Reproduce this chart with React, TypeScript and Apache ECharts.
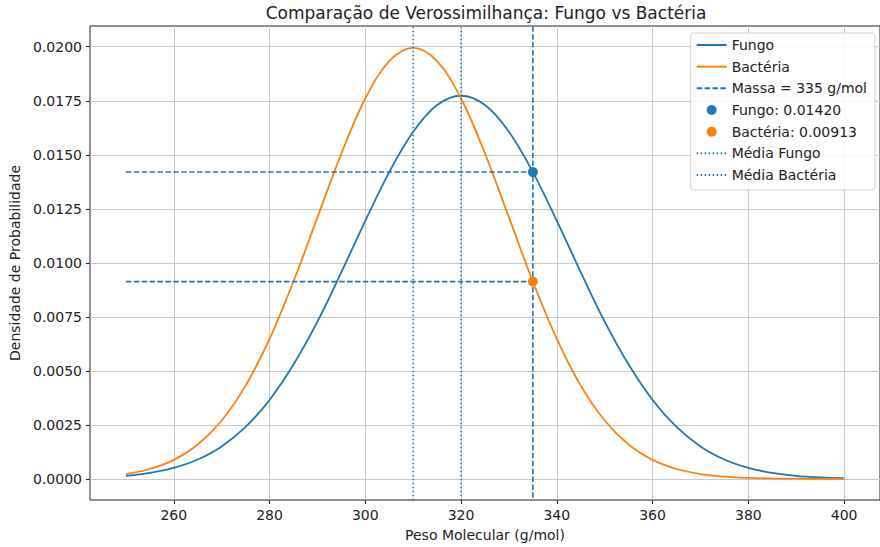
import React, { useEffect, useRef } from "react";
import * as echarts from "echarts";

// Molecular weight grid (g/mol) and probability densities of each model
const massas = [
  250, 255, 260, 265, 270, 275, 280, 285, 290, 295, 300, 305, 310, 315, 320, 325,
  330, 335, 340, 345, 350, 355, 360, 365, 370, 375, 380, 385, 390, 395, 400,
];
const densidadeFungo = [
  0.00014, 0.000273, 0.000506, 0.000894, 0.001501, 0.0024, 0.003651, 0.005288,
  0.007273, 0.009564, 0.011944, 0.014198, 0.016064, 0.017299, 0.017731, 0.017299,
  0.016064, 0.014198, 0.011944, 0.009564, 0.007273, 0.005288, 0.003651, 0.0024,
  0.001501, 0.000894, 0.000506, 0.000273, 0.00014, 0.0000686, 0.0000319,
];
const densidadeBacteria = [
  0.000222, 0.000455, 0.000876, 0.001587, 0.0027, 0.004314, 0.006476, 0.009132,
  0.012099, 0.015057, 0.017603, 0.019333, 0.019947, 0.019333, 0.017603, 0.015057,
  0.012099, 0.009132, 0.006476, 0.004314, 0.0027, 0.001587, 0.000876, 0.000455,
  0.000222, 0.0001015, 0.0000436, 0.0000176, 0.0000067, 0.0000024, 0.0000008,
];

const massaObservada = 335;
const mediaFungo = 320;
const mediaBacteria = 310;
const verossFungo = 0.0142;
const verossBacteria = 0.00913;

const xTicks = [260, 280, 300, 320, 340, 360, 380, 400];
const yTicks = [0, 0.0025, 0.005, 0.0075, 0.01, 0.0125, 0.015, 0.0175, 0.02];

const X_MIN = 242.5;
const X_MAX = 407.5;
const Y_MIN = -0.00098;
const Y_MAX = 0.02096;

const AZUL = "#1f77b4";
const LARANJA = "#ff7f0e";
const TEXTO = "#222";
const FONTE = "DejaVu Sans";
const TRACEJADO = [5.5, 2.4];
const PONTILHADO = [1.5, 2.5];

// Line entries in the legend show only their stroke, no marker
const semMarcador = { opacity: 0 };

export default function App() {
  const ref = useRef<HTMLDivElement>(null);

  useEffect(() => {
    if (!ref.current) return;
    document.body.style.margin = "0";
    const chart = echarts.init(ref.current, null, { renderer: "svg" });

    const verticalLine = (x: number) => [
      [x, Y_MIN - 1],
      [x, Y_MAX + 1],
    ];

    chart.setOption({
      animation: false,
      textStyle: { fontFamily: FONTE },
      graphic: [
        {
          type: "text",
          x: 486,
          y: 13,
          style: {
            text: "Comparação de Verossimilhança: Fungo vs Bactéria",
            textAlign: "center",
            textVerticalAlign: "middle",
            fontFamily: FONTE,
            fontSize: 17,
            fill: TEXTO,
          },
        },
      ],
      grid: {
        left: 90,
        top: 26,
        width: 792,
        height: 474,
        show: true,
        borderColor: "#222",
        borderWidth: 1,
        backgroundColor: "transparent",
      },
      legend: {
        orient: "vertical",
        right: 5,
        top: 33,
        padding: [5, 8, 8, 5],
        itemWidth: 30,
        itemHeight: 10,
        itemGap: 7.67,
        backgroundColor: "rgba(255,255,255,0.85)",
        borderColor: "#d0d0d0",
        borderWidth: 1,
        borderRadius: 3,
        textStyle: { fontFamily: FONTE, fontSize: 14, lineHeight: 14, color: TEXTO },
        data: [
          { name: "Fungo", itemStyle: semMarcador },
          { name: "Bactéria", itemStyle: semMarcador },
          { name: "Massa = 335 g/mol", itemStyle: semMarcador },
          "Fungo: 0.01420",
          "Bactéria: 0.00913",
          { name: "Média Fungo", itemStyle: semMarcador },
          { name: "Média Bactéria", itemStyle: semMarcador },
        ],
      },
      xAxis: {
        type: "value",
        min: X_MIN,
        max: X_MAX,
        name: "Peso Molecular (g/mol)",
        nameLocation: "middle",
        nameGap: 28,
        nameTextStyle: { fontFamily: FONTE, fontSize: 14, color: TEXTO },
        axisLine: { show: false, onZero: false },
        axisTick: { show: true, length: 4, lineStyle: { color: "#222" }, customValues: xTicks },
        axisLabel: {
          customValues: xTicks,
          fontFamily: FONTE,
          fontSize: 14,
          color: TEXTO,
          margin: 8,
          formatter: (v: number) => String(v),
        },
        splitLine: { show: true, lineStyle: { color: "#c8c8c8", width: 1 } },
      },
      yAxis: {
        type: "value",
        min: Y_MIN,
        max: Y_MAX,
        name: "Densidade de Probabilidade",
        nameLocation: "middle",
        nameGap: 68,
        nameTextStyle: { fontFamily: FONTE, fontSize: 14, color: TEXTO },
        axisLine: { show: false, onZero: false },
        axisTick: { show: true, length: 4, lineStyle: { color: "#222" }, customValues: yTicks },
        axisLabel: {
          customValues: yTicks,
          fontFamily: FONTE,
          fontSize: 14,
          color: TEXTO,
          margin: 8,
          formatter: (v: number) => v.toFixed(4),
        },
        splitLine: { show: true, lineStyle: { color: "#c8c8c8", width: 1 } },
      },
      series: [
        {
          name: "Fungo",
          type: "line",
          data: massas.map((m, i) => [m, densidadeFungo[i]]),
          smooth: 0.35,
          symbol: "none",
          lineStyle: { color: AZUL, width: 1.8 },
          itemStyle: { color: AZUL },
          z: 3,
        },
        {
          name: "Bactéria",
          type: "line",
          data: massas.map((m, i) => [m, densidadeBacteria[i]]),
          smooth: 0.35,
          symbol: "none",
          lineStyle: { color: LARANJA, width: 1.8 },
          itemStyle: { color: LARANJA },
          z: 4,
        },
        {
          name: "Massa = 335 g/mol",
          type: "line",
          data: verticalLine(massaObservada),
          symbol: "none",
          lineStyle: { color: AZUL, width: 1.6, type: TRACEJADO },
          itemStyle: { color: AZUL },
          z: 5,
        },
        {
          name: "hFungo",
          type: "line",
          data: [
            [massas[0], verossFungo],
            [massaObservada, verossFungo],
          ],
          symbol: "none",
          lineStyle: { color: AZUL, width: 1.6, type: TRACEJADO },
          z: 5,
        },
        {
          name: "hBacteria",
          type: "line",
          data: [
            [massas[0], verossBacteria],
            [massaObservada, verossBacteria],
          ],
          symbol: "none",
          lineStyle: { color: AZUL, width: 1.6, type: TRACEJADO },
          z: 5,
        },
        {
          name: "Fungo: 0.01420",
          type: "scatter",
          data: [[massaObservada, verossFungo]],
          symbol: "circle",
          symbolSize: 10,
          itemStyle: { color: AZUL, opacity: 1 },
          z: 6,
        },
        {
          name: "Bactéria: 0.00913",
          type: "scatter",
          data: [[massaObservada, verossBacteria]],
          symbol: "circle",
          symbolSize: 10,
          itemStyle: { color: LARANJA, opacity: 1 },
          z: 6,
        },
        {
          name: "Média Fungo",
          type: "line",
          data: verticalLine(mediaFungo),
          symbol: "none",
          lineStyle: { color: AZUL, width: 1.6, type: PONTILHADO },
          itemStyle: { color: AZUL },
          z: 7,
        },
        {
          name: "Média Bactéria",
          type: "line",
          data: verticalLine(mediaBacteria),
          symbol: "none",
          lineStyle: { color: AZUL, width: 1.6, type: PONTILHADO },
          itemStyle: { color: AZUL },
          z: 7,
        },
      ],
    });

    return () => chart.dispose();
  }, []);

  return <div ref={ref} style={{ width: 880, height: 547 }} />;
}
